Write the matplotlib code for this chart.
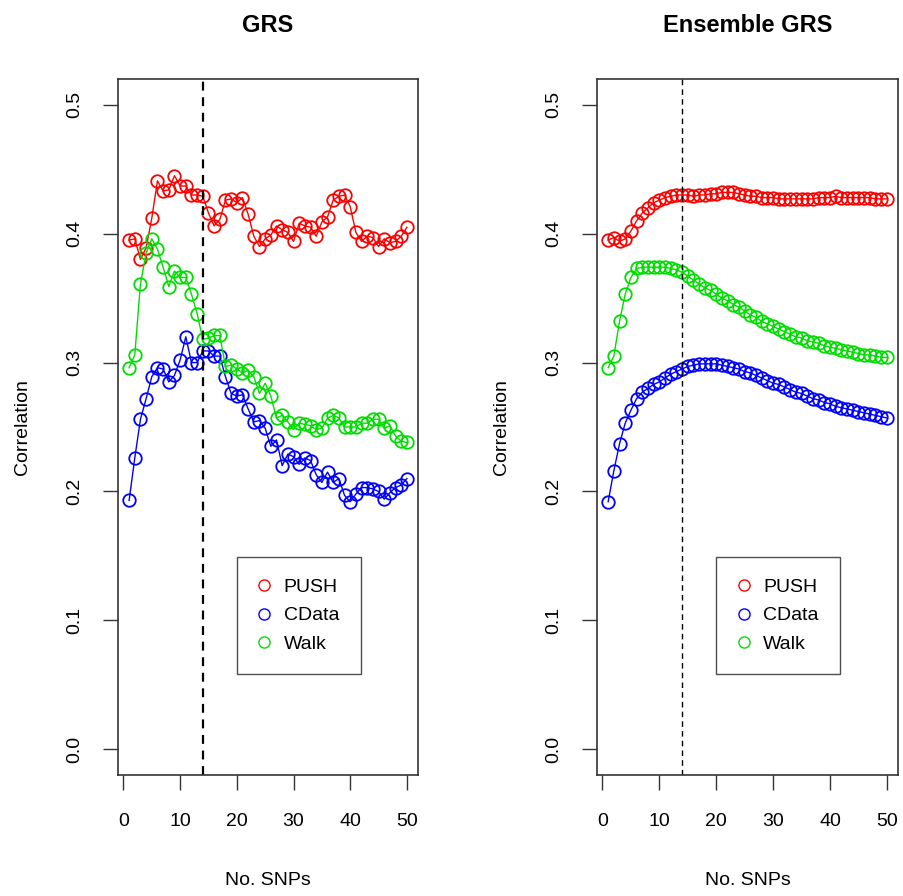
import matplotlib
matplotlib.use("Agg")
import matplotlib.pyplot as plt
from matplotlib.lines import Line2D
import numpy as np

plt.rcParams['font.family'] = ['Liberation Sans', 'DejaVu Sans']

snps = list(range(1, 51))

grs_push = [0.395, 0.396, 0.380, 0.389, 0.412, 0.441, 0.433, 0.434, 0.445, 0.437,
            0.437, 0.430, 0.430, 0.429, 0.416, 0.406, 0.411, 0.426, 0.427, 0.424,
            0.428, 0.415, 0.398, 0.390, 0.396, 0.399, 0.406, 0.403, 0.401, 0.394,
            0.408, 0.406, 0.405, 0.398, 0.409, 0.413, 0.426, 0.429, 0.430, 0.421,
            0.401, 0.394, 0.398, 0.397, 0.390, 0.396, 0.393, 0.394, 0.398, 0.405]
grs_cdata = [0.193, 0.226, 0.256, 0.272, 0.289, 0.296, 0.295, 0.285, 0.290, 0.302,
             0.320, 0.300, 0.300, 0.309, 0.309, 0.305, 0.305, 0.289, 0.276, 0.274,
             0.275, 0.264, 0.254, 0.255, 0.249, 0.235, 0.240, 0.220, 0.229, 0.227,
             0.221, 0.226, 0.224, 0.213, 0.207, 0.215, 0.207, 0.210, 0.197, 0.192,
             0.198, 0.203, 0.203, 0.202, 0.200, 0.194, 0.199, 0.203, 0.205, 0.210]
grs_walk = [0.296, 0.306, 0.361, 0.385, 0.396, 0.388, 0.374, 0.359, 0.371, 0.366,
            0.366, 0.353, 0.338, 0.318, 0.319, 0.321, 0.321, 0.297, 0.298, 0.295,
            0.292, 0.294, 0.289, 0.276, 0.284, 0.274, 0.257, 0.259, 0.254, 0.248,
            0.253, 0.252, 0.251, 0.248, 0.249, 0.257, 0.259, 0.257, 0.250, 0.250,
            0.250, 0.253, 0.253, 0.256, 0.256, 0.249, 0.251, 0.243, 0.239, 0.238]

ens_push = [0.395, 0.397, 0.394, 0.396, 0.402, 0.410, 0.416, 0.420, 0.424, 0.426,
            0.428, 0.429, 0.430, 0.430, 0.430, 0.429, 0.430, 0.430, 0.431, 0.431,
            0.432, 0.432, 0.432, 0.431, 0.430, 0.429, 0.429, 0.428, 0.428, 0.428,
            0.427, 0.427, 0.427, 0.427, 0.427, 0.427, 0.427, 0.428, 0.428, 0.428,
            0.429, 0.428, 0.428, 0.428, 0.428, 0.428, 0.428, 0.427, 0.427, 0.427]
ens_cdata = [0.192, 0.216, 0.237, 0.253, 0.263, 0.272, 0.277, 0.280, 0.283, 0.285,
             0.288, 0.291, 0.293, 0.295, 0.297, 0.298, 0.299, 0.299, 0.299, 0.299,
             0.298, 0.297, 0.296, 0.295, 0.293, 0.292, 0.290, 0.288, 0.286, 0.284,
             0.283, 0.281, 0.279, 0.277, 0.276, 0.274, 0.272, 0.271, 0.269, 0.268,
             0.266, 0.265, 0.264, 0.263, 0.262, 0.261, 0.260, 0.259, 0.258, 0.257]
ens_walk = [0.296, 0.305, 0.332, 0.353, 0.366, 0.373, 0.374, 0.374, 0.374, 0.374,
            0.374, 0.373, 0.372, 0.370, 0.367, 0.364, 0.361, 0.358, 0.356, 0.353,
            0.350, 0.348, 0.345, 0.343, 0.340, 0.337, 0.335, 0.332, 0.330, 0.328,
            0.326, 0.324, 0.322, 0.320, 0.319, 0.317, 0.316, 0.315, 0.313, 0.312,
            0.311, 0.310, 0.309, 0.308, 0.307, 0.306, 0.306, 0.305, 0.304, 0.304]

series_names = ['PUSH', 'CData', 'Walk']
colors = ['#FF0000', '#0000FF', '#00DD00']
cutoff = 14
yticks = [0.0, 0.1, 0.2, 0.3, 0.4, 0.5]
xticks = [0, 10, 20, 30, 40, 50]

fig = plt.figure(figsize=(9.04, 8.96), dpi=100)
W, H = 904, 896

def make_ax(left_px, right_px):
    top_px, bot_px = 79, 775
    return fig.add_axes([left_px / W, 1 - bot_px / H, (right_px - left_px) / W, (bot_px - top_px) / H])

panels = [
    ("GRS", [grs_push, grs_cdata, grs_walk], 118, 418, 1.6),
    ("Ensemble GRS", [ens_push, ens_cdata, ens_walk], 597, 898, 1.0),
]

for title, data, l, r, dlw in panels:
    ax = make_ax(l, r)
    for vals, c in zip(data, colors):
        ax.plot(snps, vals, color=c, lw=1.0, marker='o', markersize=9,
                markerfacecolor='none', markeredgecolor=c, markeredgewidth=1.3)
    ax.axvline(cutoff, color='black', lw=dlw, ls=(0, (4, 3)))
    ax.set_xlim(-0.96, 51.96)
    ax.set_ylim(-0.02, 0.52)
    ax.set_xticks(xticks)
    ax.set_yticks(yticks)
    ax.set_yticklabels(['%.1f' % v for v in yticks], rotation=90, va='center')
    ax.tick_params(direction='out', length=10.8, width=1, labelsize=14, color='#333333')
    ax.tick_params(axis='x', pad=16.5)
    ax.tick_params(axis='y', pad=14.4)
    for s in ax.spines.values():
        s.set_linewidth(1.2)
        s.set_color('#333333')
    ax.set_title(title, fontsize=17, fontweight='bold', pad=34)
    ax.set_xlabel('No. SNPs', fontsize=14, labelpad=30)
    ax.set_ylabel('Correlation', fontsize=14, labelpad=25)
    handles = [Line2D([], [], ls='none', marker='o', markersize=8, markerfacecolor='none',
                      markeredgecolor=c, markeredgewidth=1.0) for c in colors]
    leg = ax.legend(handles, series_names, loc='upper left', bbox_to_anchor=(0.397, 0.313),
                    fontsize=14, frameon=True, fancybox=False, borderpad=1.1,
                    labelspacing=0.55, handletextpad=0.7, handlelength=0.6, borderaxespad=0)
    leg.get_frame().set_edgecolor('#222222')
    leg.get_frame().set_linewidth(1.0)

fig.savefig('out.png', dpi=100)
